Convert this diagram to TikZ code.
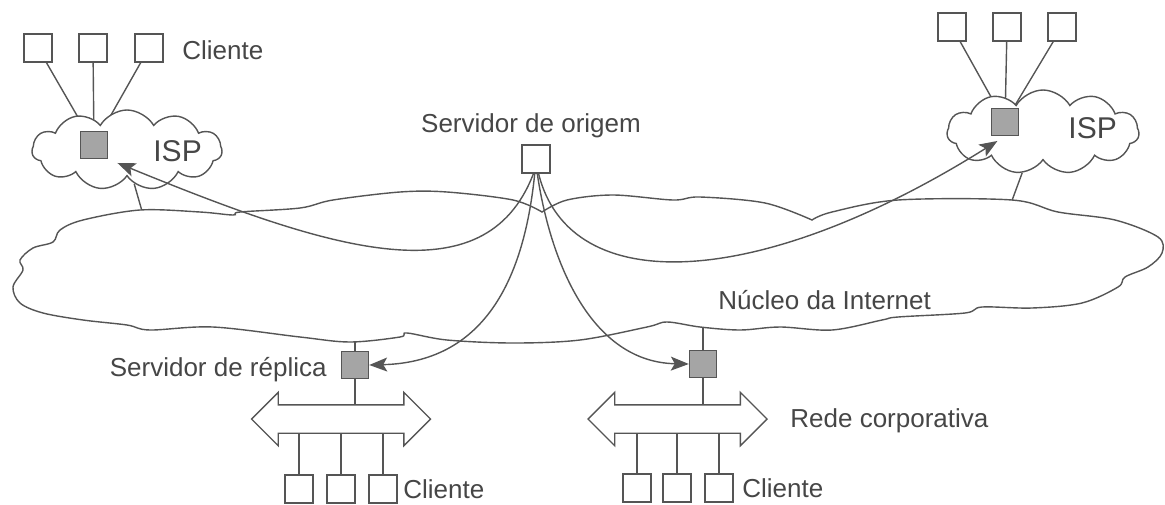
\documentclass[tikz,border=0pt]{standalone}
\usepackage{fontspec}
\setmainfont{Liberation Sans}
\usetikzlibrary{shapes.symbols,shapes.arrows,arrows.meta}
\definecolor{ink}{RGB}{85,85,85}
\definecolor{txt}{RGB}{70,70,70}
\definecolor{cache}{RGB}{165,165,165}
\pgfdeclarelayer{bg}
\pgfsetlayers{bg,main}
\newcommand{\lbl}{\fontsize{13}{15}\selectfont}
\newcommand{\isplbl}{\fontsize{15}{17}\selectfont}

\begin{document}
\begin{tikzpicture}[x=0.5pt,y=-0.5pt]
    \tikzstyle{wire}=[draw=ink, line width=0.7pt]
    \tikzstyle{core}=[draw=ink, fill=white, line width=0.7pt]
    \tikzstyle{host}=[rectangle, draw=ink, fill=white, line width=0.7pt, minimum size=14pt, inner sep=0pt]
    \tikzstyle{replica}=[host, fill=cache, minimum size=13.5pt]
    \tikzstyle{isp}=[cloud, cloud puffs=11, cloud puff arc=120, cloud ignores aspect, draw=ink, fill=white, line width=0.7pt]
    \tikzstyle{lan}=[double arrow, double arrow head extend=6.25pt, minimum height=89.5pt, inner xsep=0pt, inner ysep=6.75pt, draw=ink, fill=white, line width=0.7pt]
    \tikzstyle{lbltext}=[text=txt, inner sep=0pt, font=\lbl]
    \tikzstyle{flow}=[draw=ink, line width=0.7pt, -{Stealth[length=9pt,width=7pt,inset=2pt]}]
    \useasboundingbox (0,0) rectangle (1165,504);

    \draw[core] plot[smooth, tension=.55] coordinates {
        (542,212) (513,200) (447,192) (400,192) (333,200) (300,208) (240,212) (233,215)
        (200,212) (140,210) (83,220) (60,230) (53,242) (33,248) (20,260) (23,270)
        (13,287) (20,303) (43,313) (83,320) (127,325) (150,330) (213,327) (300,337)
        (350,342) (400,337) (407,333) (447,340) (513,343) (580,340) (647,327) (667,322)
        (700,327) (740,330) (780,327) (832,330) (882,320) (898,317) (965,313) (982,307)
        (1032,308) (1082,303) (1118,287) (1125,277) (1148,267) (1162,253) (1158,237)
        (1115,220) (1058,212) (1012,200) (898,200) (832,212) (812,220)}
        -- plot[smooth, tension=.55] coordinates {
        (812,220) (765,203) (700,197) (673,200) (613,195) (567,200) (542,212)} -- cycle;
    \coordinate (coreA) at (146,225);
    \coordinate (coreB) at (1007,214);
    \coordinate (coreC) at (355,330);
    \coordinate (coreD) at (703,315);
    \node[lbltext, anchor=base west] (coret) at (718,309) {Núcleo da Internet};

    \node[host] (ca1) at (38,48) {};
    \node[host] (ca2) at (93,48) {};
    \node[host] (ca3) at (149,48) {};
    \node[lbltext, anchor=base west] (cat) at (182,59) {Cliente};
    \node[isp, minimum width=95pt, minimum height=40pt] (ispLc) at (127,150) {};
    \node[replica] (ispL) at (94,145) {};
    \node[lbltext, font=\isplbl, anchor=base west] (ispLt) at (153,161) {ISP};

    \node[host] (cb1) at (952,27) {};
    \node[host] (cb2) at (1007,27) {};
    \node[host] (cb3) at (1062,27) {};
    \node[isp, minimum width=96pt, minimum height=42pt] (ispRc) at (1043,132) {};
    \node[replica] (ispR) at (1005,122) {};
    \node[lbltext, font=\isplbl, anchor=base west] (ispRt) at (1068,138) {ISP};

    \node[host] (srv) at (536,159) {};
    \node[lbltext, anchor=base] (srvt) at (531,132) {Servidor de origem};

    \node[replica] (repL) at (355,365) {};
    \node[lbltext, anchor=base east] (repLt) at (327,376) {Servidor de réplica};
    \node[lan] (lanL) at (341,419) {};
    \node[host] (cc1) at (299,489) {};
    \node[host] (cc2) at (341,489) {};
    \node[host] (cc3) at (383,489) {};
    \node[lbltext, anchor=base west] (cct) at (403,498) {Cliente};

    \node[replica] (repR) at (703,364) {};
    \node[lan] (lanR) at (677.5,419) {};
    \node[lbltext, anchor=base west] (lanRt) at (790,427) {Rede corporativa};
    \node[host] (cd1) at (637,488) {};
    \node[host] (cd2) at (677,488) {};
    \node[host] (cd3) at (719,488) {};
    \node[lbltext, anchor=base west] (cdt) at (742,497) {Cliente};

    \begin{pgfonlayer}{bg}
        \draw[wire] (ca1) -- (ispL);
        \draw[wire] (ca2) -- (ispL);
        \draw[wire] (ca3) -- (ispL);
        \draw[wire] (cb1) -- (ispR);
        \draw[wire] (cb2) -- (ispR);
        \draw[wire] (cb3) -- (ispR);
        \draw[wire] (ispLc.-78) -- (coreA);
        \draw[wire] (ispRc.-117) -- (coreB);
        \draw[wire] (repL) -- (coreC);
        \draw[wire] (repR) -- (coreD);
        \draw[wire] (repL) -- (repL |- lanL.center);
        \draw[wire] (repR) -- (repR |- lanR.center);
        \draw[wire] (cc1) -- (cc1 |- lanL.center);
        \draw[wire] (cc2) -- (cc2 |- lanL.center);
        \draw[wire] (cc3) -- (cc3 |- lanL.center);
        \draw[wire] (cd1) -- (cd1 |- lanR.center);
        \draw[wire] (cd2) -- (cd2 |- lanR.center);
        \draw[wire] (cd3) -- (cd3 |- lanR.center);
    \end{pgfonlayer}

    \draw[flow, shorten >=5pt] (srv.-100) .. controls (485,300) and (330,250) .. (ispL.south east);
    \draw[flow] (srv.-95) .. controls (525,270) and (490,362) .. (repL.east);
    \draw[flow] (srv.-85) .. controls (550,260) and (590,362) .. (repR.west);
    \draw[flow, shorten >=4.5pt] (srv.-80) .. controls (570,300) and (760,290) .. (ispR.south);
\end{tikzpicture}
\end{document}
